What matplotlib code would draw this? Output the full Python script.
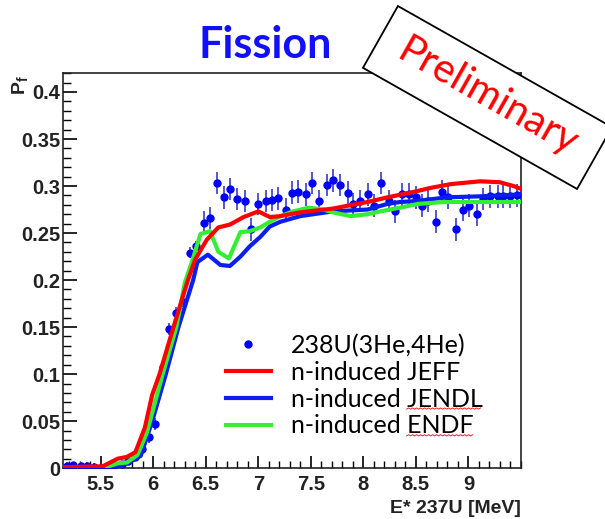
import matplotlib
matplotlib.use('Agg')
import numpy as np
import matplotlib.pyplot as plt
from matplotlib.patches import Rectangle
from matplotlib.lines import Line2D
from matplotlib.transforms import Affine2D, IdentityTransform

# measured points, 238U(3He,4He)
energy = [5.18, 5.24, 5.31, 5.37, 5.44, 5.50, 5.57, 5.63, 5.70, 5.76,
          5.83, 5.89, 5.96, 6.02, 6.09, 6.15, 6.22, 6.28, 6.35, 6.41,
          6.48, 6.54, 6.61, 6.67, 6.73, 6.80, 6.87, 6.93, 7.00, 7.07,
          7.13, 7.19, 7.26, 7.32, 7.38, 7.45, 7.51, 7.58, 7.65, 7.71,
          7.78, 7.85, 7.90, 7.97, 8.04, 8.10, 8.17, 8.24, 8.30, 8.37,
          8.43, 8.50, 8.56, 8.62, 8.69, 8.75, 8.81, 8.88, 8.95, 9.01,
          9.08, 9.14, 9.21, 9.28, 9.33, 9.40, 9.46]
pf = [0.002, 0.003, 0.002, 0.002, 0.001, 0.000, 0.000, 0.003, 0.004, 0.008,
      0.012, 0.020, 0.033, 0.047, 0.108, 0.148, 0.165, 0.177, 0.229, 0.236,
      0.261, 0.266, 0.303, 0.288, 0.297, 0.286, 0.284, 0.254, 0.281, 0.284,
      0.285, 0.287, 0.275, 0.293, 0.294, 0.291, 0.303, 0.284, 0.301, 0.306,
      0.301, 0.293, 0.281, 0.284, 0.291, 0.279, 0.303, 0.284, 0.273, 0.291,
      0.291, 0.288, 0.279, 0.284, 0.262, 0.294, 0.288, 0.254, 0.275, 0.279,
      0.270, 0.286, 0.289, 0.289, 0.289, 0.289, 0.290]
pf_err = [0.004] * 12 + [0.006] * 8 + [0.012] * 47

# n-induced evaluations
jeff_e = [5.15, 5.52, 5.66, 5.75, 5.83, 5.92, 5.99, 6.06, 6.19, 6.33,
          6.40, 6.51, 6.62, 6.73, 6.86, 7.00, 7.11, 7.21, 7.40, 7.71,
          7.85, 8.04, 8.23, 8.45, 8.64, 8.83, 9.11, 9.30, 9.43, 9.50]
jeff_p = [0.001, 0.002, 0.010, 0.012, 0.017, 0.043, 0.078, 0.100, 0.149, 0.200,
          0.222, 0.243, 0.256, 0.259, 0.267, 0.273, 0.267, 0.268, 0.272, 0.276,
          0.279, 0.283, 0.288, 0.293, 0.298, 0.302, 0.305, 0.304, 0.300, 0.297]

jendl_e = [5.15, 5.60, 5.70, 5.80, 5.88, 5.99, 6.12, 6.24, 6.38, 6.42,
           6.52, 6.64, 6.73, 6.83, 6.92, 7.02, 7.11, 7.21, 7.40, 7.71,
           8.04, 8.23, 8.35, 8.50, 8.80, 9.10, 9.50]
jendl_p = [0.000, 0.000, 0.002, 0.008, 0.013, 0.050, 0.100, 0.150, 0.200, 0.219,
           0.227, 0.216, 0.215, 0.225, 0.236, 0.246, 0.257, 0.262, 0.268, 0.273,
           0.275, 0.281, 0.283, 0.284, 0.288, 0.289, 0.291]

endf_e = [5.15, 5.52, 5.66, 5.75, 5.85, 5.94, 6.09, 6.22, 6.30, 6.37,
          6.45, 6.54, 6.62, 6.72, 6.83, 6.92, 7.02, 7.11, 7.21, 7.33,
          7.48, 7.62, 7.71, 7.88, 8.04, 8.16, 8.35, 8.52, 8.77, 9.10, 9.50]
endf_p = [0.000, 0.000, 0.005, 0.006, 0.014, 0.038, 0.100, 0.150, 0.197, 0.220,
          0.249, 0.252, 0.230, 0.223, 0.251, 0.252, 0.256, 0.262, 0.268, 0.273,
          0.277, 0.275, 0.272, 0.268, 0.270, 0.273, 0.277, 0.281, 0.283, 0.283, 0.283]

fig = plt.figure(figsize=(6.05, 5.19), dpi=100)
ax = fig.add_axes([0.104, 0.098, 0.757, 0.761])

ax.errorbar(energy, pf, yerr=pf_err, fmt='none', ecolor='#3a3ac8', elinewidth=1.2, zorder=2)
pts, = ax.plot(energy, pf, 'o', color='#0000ff', markersize=5, zorder=3, label='238U(3He,4He)')
l_jendl, = ax.plot(jendl_e, jendl_p, color='#0a1ef0', lw=3, zorder=4, label='n-induced JENDL')
l_endf, = ax.plot(endf_e, endf_p, color='#33ee33', lw=3, zorder=5, label='n-induced ENDF')
l_jeff, = ax.plot(jeff_e, jeff_p, color='#ff0000', lw=3, zorder=6, label='n-induced JEFF')

ax.set_xlim(5.14, 9.5)
ax.set_ylim(0, 0.42)
ax.set_xticks([5.5, 6, 6.5, 7, 7.5, 8, 8.5, 9])
ax.set_xticklabels(['5.5', '6', '6.5', '7', '7.5', '8', '8.5', '9'])
ax.set_xticks([5.2 + 0.1 * i for i in range(44)], minor=True)
ax.set_yticks([0, 0.05, 0.1, 0.15, 0.2, 0.25, 0.3, 0.35, 0.4])
ax.set_yticklabels(['0', '0.05', '0.1', '0.15', '0.2', '0.25', '0.3', '0.35', '0.4'])
ax.set_yticks([0.01 * i for i in range(43)], minor=True)

ax.tick_params(axis='y', which='major', direction='in', length=10, width=1.2, pad=2)
ax.tick_params(axis='y', which='minor', direction='in', length=6, width=1.0)
ax.tick_params(axis='x', which='major', direction='in', length=9, width=1.2, pad=5)
ax.tick_params(axis='x', which='minor', direction='in', length=5, width=1.0)
for lab in ax.get_xticklabels() + ax.get_yticklabels():
    lab.set_fontfamily('Liberation Sans')
    lab.set_fontweight('bold')
    lab.set_fontsize(14.5)
    lab.set_color('#222222')
for s in ax.spines.values():
    s.set_linewidth(1.2)
    s.set_color('#222222')

ax.set_xlabel('E* 237U [MeV]', loc='right', fontfamily='Liberation Sans',
              fontweight='bold', fontsize=14, color='#222222', labelpad=4)
ax.set_ylabel('P$_\\mathregular{f}$', loc='top', fontfamily='Liberation Sans',
              fontweight='bold', fontsize=14, color='#222222')
ax.yaxis.set_label_coords(-0.07, 0.995)

leg_font = {'family': 'Lato', 'size': 18}
leg = ax.legend(handles=[pts, l_jeff, l_jendl, l_endf], loc='upper left',
                bbox_to_anchor=(0.355, 0.34), frameon=False, numpoints=1,
                prop=leg_font, handlelength=1.8, handletextpad=0.8,
                labelspacing=0.15, borderpad=0, borderaxespad=0)

fig.text(0.438, 0.913, 'Fission', color='#1010ff', fontfamily='Lato',
         fontweight='bold', fontsize=31, ha='center', va='center')

# rotated "Preliminary" stamp
cx, cy = 4.875, 5.19 - 0.975
box = Rectangle((cx - 1.23, cy - 0.355), 2.46, 0.71, fc='white', ec='black', lw=1.3,
                transform=Affine2D().rotate_deg_around(cx, cy, -29.5) + fig.dpi_scale_trans)
fig.add_artist(box)
fig.text(cx / 6.05, cy / 5.19, 'Preliminary', color='#ff0000', fontfamily='Lato',
         fontsize=29, rotation=-29.5, rotation_mode='anchor', ha='center', va='center')

# spell-check squiggles under JENDL / ENDF, as in the slide
fig.canvas.draw()
rend = fig.canvas.get_renderer()
for t, word in zip(leg.get_texts()[2:], ['JENDL', 'ENDF']):
    bb = t.get_window_extent(rend)
    tmp = fig.text(0, 0, word, fontfamily='Lato', fontsize=18)
    wb = tmp.get_window_extent(rend)
    tmp.remove()
    xs = np.arange(bb.x1 - wb.width, bb.x1, 2.0)
    ys = bb.y0 + 1.5 + 1.2 * (np.arange(len(xs)) % 2)
    fig.add_artist(Line2D(xs, ys, color='#ff2020', lw=0.7, transform=IdentityTransform()))

fig.savefig('out.png', dpi=100)
